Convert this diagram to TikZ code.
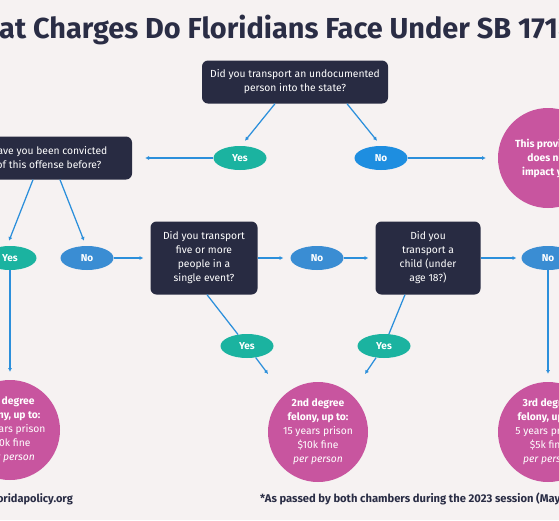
\documentclass[tikz,border=0pt]{standalone}
\usepackage{fontspec}
\setmainfont{Fira Sans}
\usetikzlibrary{shapes.geometric,arrows.meta,calc}
\definecolor{bg}{HTML}{F6F2F2}
\definecolor{navy}{HTML}{282B42}
\definecolor{cteal}{HTML}{1BB3A0}
\definecolor{nblue}{HTML}{1E8EE0}
\definecolor{nblueb}{HTML}{3A8DD3}
\definecolor{mag}{HTML}{C8559F}
\definecolor{arrc}{HTML}{2B8FDB}
\definecolor{ink}{HTML}{2A2D45}
\tikzset{
  qbox/.style={fill=navy, rounded corners=6pt, text=white, inner sep=0pt,
    font=\fontsize{10.3}{14}\selectfont, align=center},
  yesb/.style={ellipse, fill=cteal, minimum width=53pt, minimum height=24pt, inner sep=0pt,
    text=white, font=\bfseries\fontsize{10}{12}\selectfont},
  nob/.style={ellipse, fill=nblueb, minimum width=53pt, minimum height=24pt, inner sep=0pt,
    text=white, font=\bfseries\fontsize{10}{12}\selectfont},
  outc/.style={circle, fill=mag, minimum size=100pt, inner sep=0pt, text=white, align=center,
    font=\fontsize{10.3}{14}\selectfont},
  conn/.style={draw=arrc, line width=1.25pt},
  arr/.style={conn, -{Latex[length=3.8pt,width=4.2pt]}},
}
\begin{document}
\begin{tikzpicture}[x=1pt,y=-1pt]
\useasboundingbox (0,0) rectangle (559,520);
\clip (0,0) rectangle (559,520);
\fill[bg] (0,0) rectangle (559,520);

\node[anchor=base west, inner sep=0pt, text=ink, font=\bfseries\fontsize{28.9}{32}\selectfont] (title) at (-1,38) {\llap{Wh}at Charges Do Floridians Face Under SB 1718?};

\node[qbox, minimum width=186pt, minimum height=43pt] (q1) at (295,82) {Did you transport an undocumented\\person into the state?};
\node[yesb] (y1) at (240,158) {Yes};
\node[nob, fill=nblue] (n1) at (381,158) {No};
\node[qbox, minimum width=166pt, minimum height=43pt] (q2) at (49,158) {Have you been convicted\\of this offense before?};
\node[outc] (out0) at (548,158) {\bfseries This provision\\\bfseries does not\\\bfseries impact you};
\node[yesb] (y2) at (10,258) {Yes};
\node[nob] (n2) at (87,258) {No};
\node[qbox, minimum width=107pt, minimum height=73pt] (q3) at (204,258) {Did you transport\\five or more\\people in a\\single event?};
\node[nob] (n3) at (317,258) {No};
\node[qbox, minimum width=105pt, minimum height=73pt] (q4) at (428,258) {Did you\\transport a\\child (under\\age 18?)};
\node[nob] (n4) at (548,258) {No};
\node[yesb] (y3) at (247,346) {Yes};
\node[yesb] (y4) at (384,346) {Yes};
\node[outc] (c1) at (10,430) {\bfseries 1st degree\\\bfseries felony, up to:\\30 years prison\\\$10k fine\\\itshape per person};
\node[outc] (c2) at (318,432) {\bfseries 2nd degree\\\bfseries felony, up to:\\15 years prison\\\$10k fine\\\itshape per person};
\node[outc] (c3) at (548,432) {\bfseries 3rd degree\\\bfseries felony, up to:\\5 years prison\\\$5k fine\\\itshape per person};

\node[anchor=base east, inner sep=0pt, text=ink, font=\bfseries\fontsize{11}{14}\selectfont] (site) at (73,502) {floridapolicy.org};
\node[anchor=base west, inner sep=0pt, text=ink, font=\bfseries\fontsize{11.2}{14}\selectfont] (note) at (260,502) {*As passed by both chambers during the 2023 session (May 2023)};

% connectors
\draw[arr] ($(q1.south)+(-20,0)$) -- ($(y1.north)+(5,-5)$);
\draw[arr] ($(q1.south)+(52,0)$) -- ($(n1.north)+(-4,-5)$);
\draw[arr, shorten >=13pt] (y1.west) -- (q2.east);
\draw[arr, shorten >=12pt] (n1.east) -- (out0.west);
\draw[arr] ($(q2.south)+(-16,0)$) -- ($(y2.north)+(-1,-5)$);
\draw[arr] ($(q2.south)+(11,0)$) -- ($(n2.north)+(-3,-5)$);
\draw[arr, shorten >=7pt] (n2.east) -- (q3.west);
\draw[arr, shorten >=7pt] (q3.east) -- (n3.west);
\draw[arr, shorten >=7pt] (n3.east) -- (q4.west);
\draw[arr, shorten >=5pt] (q4.east) -- (n4.west);
\draw[arr, shorten >=8pt] (y2.south) -- (c1.north);
\draw[arr, shorten >=8pt] (n4.south) -- (c3.north);
\draw[conn] ($(q3.south)+(3,0)$) -- (y3);
\draw[arr] (y3) -- ($(c2.center)+(-50,-58)$);
\draw[conn] ($(q4.south)+(-23,0)$) -- (y4);
\draw[arr] (y4) -- ($(c2.center)+(47,-58)$);
\end{tikzpicture}
\end{document}
